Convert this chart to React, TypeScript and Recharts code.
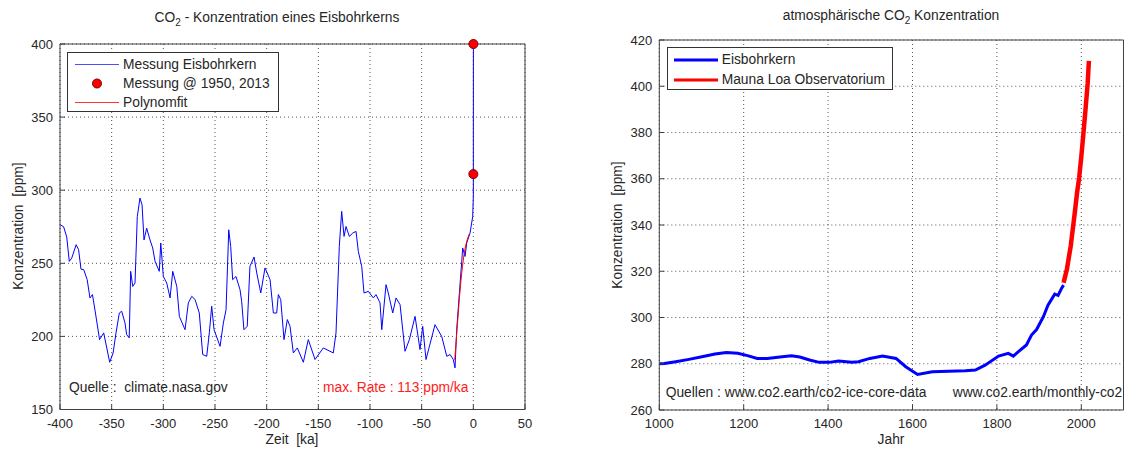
import { ComposedChart, Line, XAxis, YAxis, CartesianGrid, Legend } from "recharts";

const font = '"Liberation Sans", Arial, Helvetica, sans-serif';
const ink = "#262626";
const axisGrey = "#404040";
const textSize = 13.8;

// left: ice core, time in ka before 1950
const coreKa = [
  -400, -396.5, -393.5, -391, -388.6, -384.4, -382, -379.7, -377, -373.7, -371, -368.6, -365.7, -361.7,
  -357.7, -351.9, -348.6, -345.8, -342.6, -340.3, -337.1, -335.5, -333, -331.6, -329.6, -327.4, -325.2,
  -322.6, -320.6, -318.7, -316.1, -312.9, -310.3, -308, -303.9, -302.5, -300, -296.7, -293.5, -290.9,
  -287, -284.5, -279, -275.8, -272.5, -269.3, -265.2, -261.9, -258, -255.5, -253.2, -250.9, -245.1,
  -241.9, -239.3, -236.7, -234.8, -232.9, -229.7, -225.8, -224.2, -222, -218.8, -216.2, -212.2, -209.6,
  -205.7, -201.6, -196.7, -193.5, -190.3, -188.7, -186.4, -183.2, -180, -177.4, -174.2, -170.3, -164.5,
  -159.7, -153.2, -145.2, -138.7, -135.5, -132.9, -129.7, -127.4, -125.1, -123.2, -120, -116.7, -113.5,
  -111.3, -108, -105.8, -101.6, -96.8, -94.2, -90.3, -88.6, -84.5, -82.3, -78, -74.8, -70.9, -66.1,
  -61.9, -56.4, -51.6, -49, -45.8, -37.1, -30.6, -25.7, -22.5, -19.4, -17.7, -16.1, -13.5, -11.2, -10.3,
  -8, -6.4, -3.2, -0.6, 0, 0, 0.063,
];
const corePpm = [
  276.4, 275, 268, 251.3, 253.6, 262.7, 259.3, 246, 245.6, 238.8, 226.3, 228.6, 216, 197.8,
  202.4, 182.3, 188.7, 202.4, 216, 217.2, 209.2, 201.2, 199, 244.5, 234.2, 236.5, 282,
  294.6, 290, 266, 274, 266, 260.5, 251.3, 244.5, 263.9, 241, 236.5, 226.3, 244.5,
  234.2, 213.7, 204.6, 222.9, 227.4, 225.2, 216, 187.6, 186.4, 202.4, 220.6, 204.6, 193.2,
  209.2, 218.3, 272.9, 261.5, 238.8, 241, 232, 224, 204.6, 206.9, 247.9, 254.3, 243.4,
  229.7, 246.8, 238.8, 216, 216, 228.6, 225.2, 197.8, 211.5, 206.9, 188.7, 192.1, 182.3,
  197.8, 184.2, 192.1, 189.8, 188.7, 202.4, 261.5, 285.5, 268.4, 275.2, 268.4, 270.7, 271.8,
  258.1, 247.9, 229.7, 230.8, 226.3, 228.6, 222.9, 204.6, 235.4, 229.7, 216, 226.3, 221.7, 189.8,
  197.8, 213.7, 191, 206.9, 184.2, 208, 200, 186.4, 187.6, 184.2, 178.5, 204.6, 229.7, 251.3, 260.5,
  254.7, 263.9, 270.7, 282, 296, 311, 400,
];
const fitKa = [-18, -16.5, -15, -13.5, -12, -10.5, -9, -7.5, -6, -4];
const fitPpm = [184, 198, 212, 226, 238, 248, 256, 262, 266, 270];
const measKa = [0, 0.063];
const measPpm = [311, 400];
const leftXTicks = [-400, -350, -300, -250, -200, -150, -100, -50, 0, 50];
const leftYTicks = [150, 200, 250, 300, 350, 400];

// right: Law Dome ice core and Mauna Loa
const lawYear = [
  1000, 1012, 1039, 1070, 1101, 1132, 1159, 1186, 1209, 1232, 1256, 1286, 1313, 1333, 1356, 1379, 1402,
  1425, 1456, 1472, 1499, 1529, 1561, 1584, 1612, 1647, 1686, 1725, 1749, 1772, 1804, 1827, 1839, 1851,
  1870, 1882, 1894, 1910, 1921, 1937, 1945, 1953, 1958,
];
const lawPpm = [
  280, 280.1, 280.9, 281.9, 283, 284.2, 284.9, 284.5, 283.5, 282.3, 282.3, 282.9, 283.5, 282.9, 281.6,
  280.6, 280.6, 281.2, 280.6, 280.9, 282.3, 283.3, 282.3, 278.7, 275.4, 276.5, 276.8, 277, 277.3, 279.4,
  283.3, 284.5, 283.3, 285.2, 288.1, 292.4, 294.8, 300.3, 305.3, 310.1, 309.6, 312.5, 314,
];
const mloYear = [1958, 1962, 1966, 1970, 1975, 1980, 1985, 1990, 1995, 2000, 2005, 2010, 2015, 2018];
const mloPpm = [315, 318, 321, 325.5, 331, 338.5, 346, 354, 360.5, 369.5, 379.5, 390, 401, 411];
const rightXTicks = [1000, 1200, 1400, 1600, 1800, 2000];
const rightYTicks = [260, 280, 300, 320, 340, 360, 380, 400, 420];

const core = coreKa.map((ka, i) => ({ ka, ppm: corePpm[i] }));
const fit = fitKa.map((ka, i) => ({ ka, ppm: fitPpm[i] }));
const meas = measKa.map((ka, i) => ({ ka, ppm: measPpm[i] }));
const law = lawYear.map((year, i) => ({ year, ppm: lawPpm[i] }));
const mlo = mloYear.map((year, i) => ({ year, ppm: mloPpm[i] }));

const tickStyle = { fill: ink, fontSize: 13, fontFamily: font };

function LegendRow({ kind, color, text, h }: { kind: string; color: string; text: string; h: number }) {
  return (
    <div style={{ display: "flex", alignItems: "center", height: h }}>
      <svg width={44} height={h}>
        {kind === "dot" ? (
          <circle cx={22} cy={h / 2} r={4.5} fill="#ff0000" stroke="#700" />
        ) : (
          <line x1={0} x2={44} y1={h / 2} y2={h / 2} stroke={color} strokeWidth={kind === "thick" ? 3 : 1} />
        )}
      </svg>
      <span style={{ marginLeft: 4, whiteSpace: "nowrap" }}>{text}</span>
    </div>
  );
}

function LeftLegend() {
  return (
    <div style={{ boxSizing: "border-box", width: 212, height: 60, border: "1px solid #333", background: "#fff",
      padding: "2px 0 0 7px", fontFamily: font, fontSize: textSize, color: ink }}>
      <LegendRow kind="line" color="#4d4dff" text="Messung Eisbohrkern" h={19} />
      <LegendRow kind="dot" color="#ff0000" text="Messung @ 1950, 2013" h={19} />
      <LegendRow kind="line" color="#ff3333" text="Polynomfit" h={19} />
    </div>
  );
}

function RightLegend() {
  return (
    <div style={{ boxSizing: "border-box", width: 226, height: 43, border: "1px solid #333", background: "#fff",
      padding: "2px 0 0 6px", fontFamily: font, fontSize: textSize, color: ink }}>
      <LegendRow kind="thick" color="#0000ff" text="Eisbohrkern" h={20} />
      <LegendRow kind="thick" color="#ff0000" text="Mauna Loa Observatorium" h={20} />
    </div>
  );
}

const txt = (extra: any) => ({ position: "absolute" as const, fontFamily: font, fontSize: textSize, color: ink, whiteSpace: "pre" as const, ...extra });

function LeftChart() {
  return (
    <div style={{ position: "absolute", left: 0, top: 0 }}>
      <ComposedChart width={540} height={449} margin={{ top: 39, right: 10, bottom: 9.5, left: 10 }}>
        <CartesianGrid stroke="#555" strokeDasharray="1 3" />
        <XAxis dataKey="ka" type="number" domain={[-400, 50]} ticks={leftXTicks} interval={0} allowDataOverflow
          height={30} tickSize={-5} tickMargin={14} stroke={axisGrey} tick={tickStyle} />
        <XAxis xAxisId="top" orientation="top" type="number" domain={[-400, 50]} ticks={leftXTicks} interval={0}
          allowDataOverflow height={5} tickSize={-5} tick={false} stroke={axisGrey} />
        <YAxis type="number" domain={[150, 400]} ticks={leftYTicks} interval={0} allowDataOverflow width={50}
          tickSize={-5} tickMargin={12} stroke={axisGrey} tick={tickStyle} />
        <YAxis yAxisId="right" orientation="right" type="number" domain={[150, 400]} ticks={leftYTicks} interval={0}
          allowDataOverflow width={5} tickSize={-5} tick={false} stroke={axisGrey} />
        <Line data={core} dataKey="ppm" stroke="#0000ff" strokeWidth={1} dot={false} isAnimationActive={false} />
        <Line data={fit} dataKey="ppm" stroke="#ff0000" strokeWidth={1} dot={false} isAnimationActive={false} />
        <Line data={meas} dataKey="ppm" stroke="none"
          dot={{ r: 4.5, fill: "#ff0000", stroke: "#700", strokeWidth: 1, clipDot: false }}
          isAnimationActive={false} />
        <Legend layout="vertical" align="center" verticalAlign="middle" content={() => <LeftLegend />}
          wrapperStyle={{ left: 67, top: 52, width: 212, height: 60 }} />
      </ComposedChart>
      <div style={txt({ left: 277, top: 10, transform: "translateX(-50%)" })}>
        CO<sub style={{ fontSize: 10 }}>2</sub> - Konzentration eines Eisbohrkerns
      </div>
      <div style={txt({ left: 292, top: 432, transform: "translateX(-50%)" })}>Zeit  [ka]</div>
      <div style={txt({ left: 18, top: 226, transform: "translate(-50%, -50%) rotate(-90deg)" })}>Konzentration  [ppm]</div>
      <div style={txt({ left: 69, top: 380 })}>Quelle :  climate.nasa.gov</div>
      <div style={txt({ left: 323, top: 380, color: "#ff2020" })}>max. Rate : 113 ppm/ka</div>
    </div>
  );
}

function RightChart() {
  return (
    <div style={{ position: "absolute", left: 600, top: 0 }}>
      <ComposedChart width={529} height={449} margin={{ top: 35, right: 0.5, bottom: 9, left: 9.3 }}>
        <CartesianGrid stroke="#555" strokeDasharray="1 3" />
        <XAxis dataKey="year" type="number" domain={[1000, 2100]} ticks={rightXTicks} interval={0} allowDataOverflow
          height={30} tickSize={-5} tickMargin={14} stroke={axisGrey} tick={tickStyle} />
        <XAxis xAxisId="top" orientation="top" type="number" domain={[1000, 2100]} ticks={rightXTicks} interval={0}
          allowDataOverflow height={5} tickSize={-5} tick={false} stroke={axisGrey} />
        <YAxis type="number" domain={[260, 420]} ticks={rightYTicks} interval={0} allowDataOverflow width={50}
          tickSize={-5} tickMargin={12} stroke={axisGrey} tick={tickStyle} />
        <YAxis yAxisId="right" orientation="right" type="number" domain={[260, 420]} ticks={rightYTicks} interval={0}
          allowDataOverflow width={5} tickSize={-5} tick={false} stroke={axisGrey} />
        <Line data={law} dataKey="ppm" stroke="#0000ff" strokeWidth={3} dot={false} isAnimationActive={false} />
        <Line data={mlo} dataKey="ppm" stroke="#ff0000" strokeWidth={4.5} dot={false} isAnimationActive={false} />
        <Legend layout="vertical" align="center" verticalAlign="middle" content={() => <RightLegend />}
          wrapperStyle={{ left: 66.7, top: 46.7, width: 226, height: 43 }} />
      </ComposedChart>
      <div style={txt({ left: 291, top: 8, transform: "translateX(-50%)" })}>
        atmosphärische CO<sub style={{ fontSize: 10 }}>2</sub> Konzentration
      </div>
      <div style={txt({ left: 291, top: 432, transform: "translateX(-50%)" })}>Jahr</div>
      <div style={txt({ left: 17, top: 225, transform: "translate(-50%, -50%) rotate(-90deg)" })}>Konzentration  [ppm]</div>
      <div style={txt({ left: 65.7, top: 385 })}>Quellen : www.co2.earth/co2-ice-core-data</div>
      <div style={txt({ left: 352.7, top: 385 })}>www.co2.earth/monthly-co2</div>
    </div>
  );
}

export default function App() {
  return (
    <div style={{ position: "relative", width: 1129, height: 449, background: "#fff" }}>
      <style>{"body{margin:0}"}</style>
      <LeftChart />
      <RightChart />
    </div>
  );
}
